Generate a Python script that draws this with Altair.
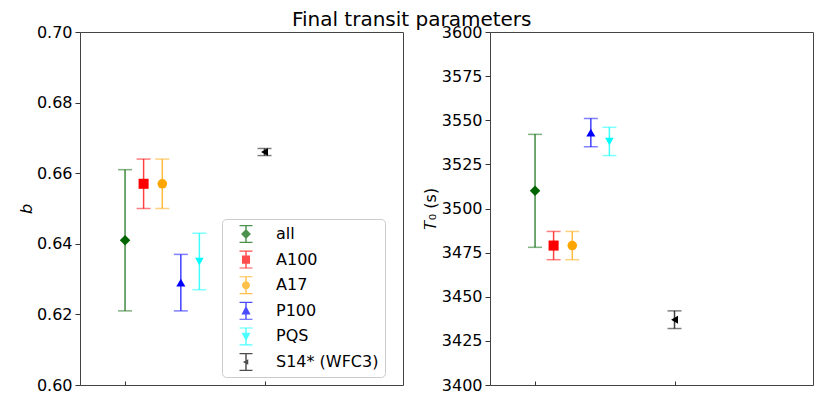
import altair as alt
import pandas as pd

# ---- data ----
names = ["all", "A100", "A17", "P100", "PQS", "S14* (WFC3)"]
xpos = [1.0, 1.133, 1.267, 1.4, 1.533, 2.0]

b_val = [0.641, 0.657, 0.657, 0.629, 0.635, 0.666]
b_lo = [0.621, 0.650, 0.650, 0.621, 0.627, 0.665]
b_hi = [0.661, 0.664, 0.664, 0.637, 0.643, 0.667]

t0_val = [3510, 3479, 3479, 3543, 3538, 3437]
t0_lo = [3478, 3471, 3471, 3535, 3530, 3432]
t0_hi = [3542, 3487, 3487, 3551, 3546, 3442]

b_ticks = [0.60, 0.62, 0.64, 0.66, 0.68, 0.70]
t0_ticks = [3400, 3425, 3450, 3475, 3500, 3525, 3550, 3575, 3600]

# ---- styles ----
colors = ["#006400", "#ff0000", "#ffa500", "#0000ff", "#00ffff", "#000000"]
shapes = ["diamond", "square", "circle", "triangle-up", "triangle-down", "triangle-left"]
sizes = [110, 64, 70, 80, 80, 30]

BAR = "M-0.08,-0.95L0.08,-0.95L0.08,0.95L-0.08,0.95Z"
CAPS = "M-0.72,-1L0.72,-1L0.72,-0.87L-0.72,-0.87ZM-0.72,0.87L0.72,0.87L0.72,1L-0.72,1Z"
markers = [
    "M0,-0.55L0.55,0L0,0.55L-0.55,0Z",
    "M-0.45,-0.45L0.45,-0.45L0.45,0.45L-0.45,0.45Z",
    "M0.45,0A0.45,0.45,0,1,1,-0.45,0A0.45,0.45,0,1,1,0.45,0Z",
    "M0,-0.55L0.5,0.4L-0.5,0.4Z",
    "M0,0.55L-0.5,-0.4L0.5,-0.4Z",
    "M-0.35,0L0.25,-0.3L0.25,0.3Z",
]
legend_paths = [BAR + CAPS + m for m in markers]

FONT = "DejaVu Sans"

df = pd.DataFrame({
    "series": names, "x": xpos,
    "b": b_val, "b_lo": b_lo, "b_hi": b_hi,
    "t0": t0_val, "t0_lo": t0_lo, "t0_hi": t0_hi,
})

W, H = 323, 353


def panel(yf, ytitle, ydom, yvals, fmt, title_style, title_pad, with_legend):
    xenc = alt.X(
        "x:Q",
        scale=alt.Scale(domain=[0.677, 2.993], nice=False, zero=False),
        axis=alt.Axis(values=[1, 2], labels=False, title=None, grid=False,
                      domain=False, ticks=True, tickSize=4, offset=-4),
    )
    yaxis = alt.Axis(values=yvals, format=fmt, title=ytitle, grid=False,
                     domain=False, tickSize=5, labelPadding=3,
                     titlePadding=title_pad, titleFontStyle=title_style)
    yscale = alt.Scale(domain=ydom, nice=False, zero=False)

    def Y(f):
        return alt.Y(f"{f}:Q", scale=yscale, axis=yaxis)

    col = alt.Color("series:N", scale=alt.Scale(domain=names, range=colors), legend=None)
    base = alt.Chart(df)

    bars = base.mark_rule(strokeWidth=1.5, opacity=0.75).encode(
        x=xenc, y=Y(yf + "_lo"), y2=f"{yf}_hi:Q", color=col)
    cap_lo = base.mark_tick(orient="horizontal", size=14, thickness=1.5, opacity=0.5).encode(
        x=xenc, y=Y(yf + "_lo"), color=col)
    cap_hi = base.mark_tick(orient="horizontal", size=14, thickness=1.5, opacity=0.5).encode(
        x=xenc, y=Y(yf + "_hi"), color=col)
    pts = base.mark_point(filled=True, opacity=1).encode(
        x=xenc, y=Y(yf), color=col,
        shape=alt.Shape("series:N", scale=alt.Scale(domain=names, range=shapes), legend=None),
        size=alt.Size("series:N", scale=alt.Scale(domain=names, range=sizes), legend=None),
    )
    layers = [bars, cap_lo, cap_hi, pts]
    if with_legend:
        leg = alt.Legend(
            title=None, orient="none", legendX=142, legendY=187,
            symbolSize=324, symbolStrokeWidth=0, symbolOffset=9,
            labelFont=FONT, labelFontSize=16, labelColor="black",
            labelOffset=21, padding=6, rowPadding=7.6,
            labelExpr="datum.label + '\u00a0\u00a0'",
            strokeColor="#cccccc", fillColor="white", cornerRadius=4,
        )
        # legend-only layer: no marks drawn (all rows filtered), the legend
        # entries come from the explicit scale domain
        hidden = base.transform_filter("false").mark_point(filled=True).encode(
            x=xenc, y=Y(yf),
            color=alt.Color("series:N", scale=alt.Scale(domain=names, range=colors), legend=leg),
            shape=alt.Shape("series:N", scale=alt.Scale(domain=names, range=legend_paths), legend=leg),
        )
        layers.append(hidden)
    return alt.layer(*layers).resolve_scale(
        color="independent", shape="independent", size="independent"
    ).properties(width=W, height=H)


left = panel("b", "b", [0.60, 0.70], b_ticks, ".2f", "italic", 2, True)
right = panel("t0", "𝑇₀ (s)", [3400, 3600], t0_ticks, "d", "normal", 3, False)

chart = alt.hconcat(left, right, spacing=17).resolve_scale(
    color="independent", shape="independent", size="independent"
).resolve_legend(color="independent", shape="independent", size="independent").properties(
    title=alt.TitleParams("Final transit parameters", fontSize=20, font=FONT,
                          fontWeight="normal", anchor="middle", offset=-6, dx=-4,
                          color="black"),
    padding={"left": 9, "top": 1, "right": 5, "bottom": 5},
).configure_view(stroke="#444444", strokeWidth=1).configure_axis(
    labelFont=FONT, labelFontSize=16, labelColor="black",
    titleFont=FONT, titleFontSize=16, titleFontWeight="normal", titleColor="black",
    tickColor="#333333", tickWidth=1,
)

chart.save("out.html", embed_options={"renderer": "svg", "actions": False})
